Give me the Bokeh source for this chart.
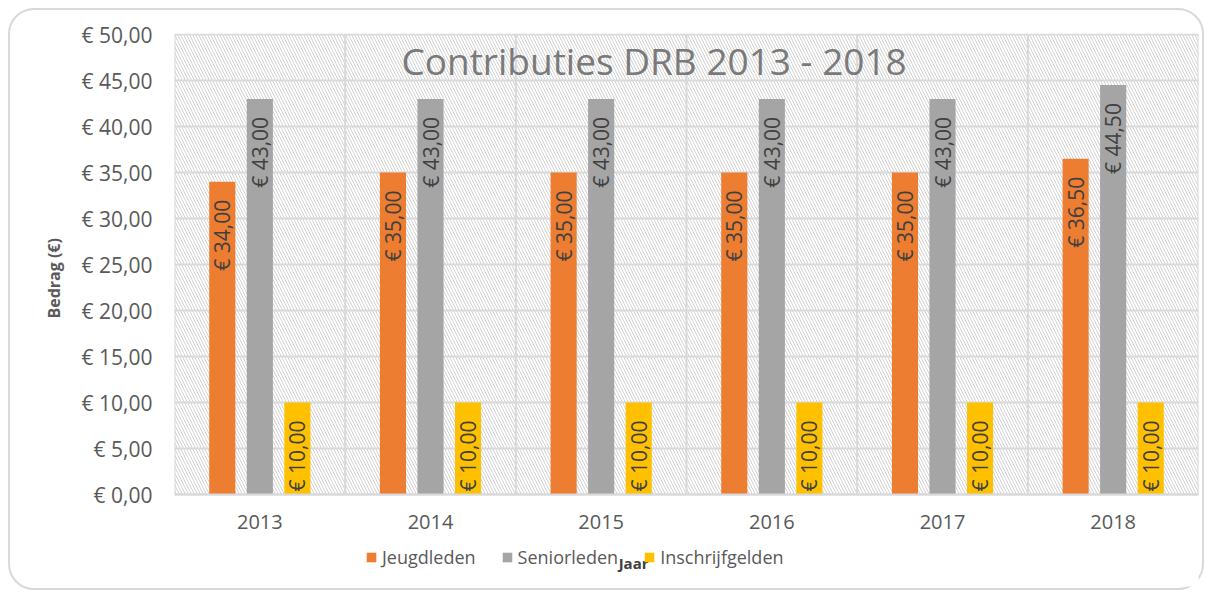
import numpy as np
from bokeh.plotting import figure
from bokeh.models import (ColumnDataSource, FixedTicker, Legend, LegendItem, Label, Title)
from bokeh.core.properties import value
from bokeh.embed import file_html
from bokeh.resources import INLINE

# ---- data ----
years = ["2013", "2014", "2015", "2016", "2017", "2018"]
jeugdleden = [34.00, 35.00, 35.00, 35.00, 35.00, 36.50]
seniorleden = [43.00, 43.00, 43.00, 43.00, 43.00, 44.50]
inschrijfgelden = [10.00, 10.00, 10.00, 10.00, 10.00, 10.00]
series_names = ["Jeugdleden", "Seniorleden", "Inschrijfgelden"]
y_ticks = [0, 5, 10, 15, 20, 25, 30, 35, 40, 45, 50]
title_text = "Contributies DRB 2013 - 2018"
y_title = "Bedrag (€)"
x_title = "Jaar"

colors = ["#ED7D31", "#A5A5A5", "#FFC000"]
FONT = "Open Sans"
GRID = "#d9d9d9"

def euro(v):
    return "€ " + f"{v:.2f}".replace(".", ",")

y_max = max(y_ticks)
# frame extends below zero so that legend and axis title can sit inside it
p = figure(width=1196, height=582, x_range=(0, len(years)), y_range=(-10.0, y_max + 0.11),
           output_backend="svg", toolbar_location=None,
           min_border_left=164, min_border_right=8, min_border_top=23, min_border_bottom=6)
p.styles = {"border": "2px solid #d9d9d9", "border-radius": "26px",
            "margin-left": "8px", "margin-top": "8px"}
p.border_fill_alpha = 0
p.background_fill_color = "white"
p.outline_line_color = None

# hatched plot-area background
bg = p.quad(left=[0], right=[len(years)], bottom=[0], top=[y_max], fill_color="white",
            line_color=None, hatch_pattern="\\", hatch_color="#d2d2d2",
            hatch_scale=6, hatch_weight=1)
bg.level = "image"

# grids
p.ygrid.ticker = FixedTicker(ticks=y_ticks)
p.ygrid.grid_line_color = GRID
p.ygrid.grid_line_width = 2
p.xgrid.visible = False
bounds = np.arange(len(years) + 1)
vl = p.segment(x0=bounds, x1=bounds, y0=0, y1=y_max, line_color=GRID, line_width=2)
vl.level = "underlay"

idx = np.arange(len(years)) + 0.5
offsets = [-0.22, 0.0, 0.22]
bar_w = 0.153
renderers = []
for name, vals, off, col in zip(series_names, [jeugdleden, seniorleden, inschrijfgelden], offsets, colors):
    src = ColumnDataSource(dict(x=idx + off, top=vals, lab=[euro(v) for v in vals]))
    r = p.vbar(x="x", top="top", width=bar_w, source=src, fill_color=col, line_color=None)
    renderers.append(r)
    p.text(x="x", y="top", text="lab", source=src, angle=np.pi / 2, text_align="right",
           text_baseline="middle", y_offset=18, text_color="#404040",
           text_font=value(FONT), text_font_size="21px")

# y axis
p.yaxis.ticker = FixedTicker(ticks=y_ticks)
p.yaxis.major_label_overrides = {t: euro(t) for t in y_ticks}
p.yaxis.major_label_text_font = FONT
p.yaxis.major_label_text_font_size = "21px"
p.yaxis.major_label_text_color = "#595959"
p.yaxis.major_label_standoff = 22
p.yaxis.major_tick_out = 0
p.yaxis.major_tick_in = 0
p.yaxis.axis_line_color = None
p.yaxis.major_tick_line_color = None
p.yaxis.minor_tick_line_color = None

p.add_layout(Title(text=y_title, align="left", offset=268, text_font=FONT,
                   text_font_style="bold", text_font_size="16px", text_color="#595959",
                   standoff=28), "left")

# x axis at y = 0
p.xaxis.fixed_location = 0
p.xaxis.ticker = FixedTicker(ticks=list(idx))
p.xaxis.major_label_overrides = {float(c): y for c, y in zip(idx, years)}
p.xaxis.major_label_text_font = FONT
p.xaxis.major_label_text_font_size = "20px"
p.xaxis.major_label_text_color = "#595959"
p.xaxis.major_label_standoff = 20
p.xaxis.major_tick_out = 0
p.xaxis.major_tick_in = 0
p.xaxis.axis_line_color = GRID
p.xaxis.axis_line_width = 2
p.xaxis.major_tick_line_color = None
p.xaxis.minor_tick_line_color = None

# title inside plot area
p.add_layout(Label(x=2.81, y=47.2, text=title_text, text_align="center", text_baseline="middle",
                   text_font=FONT, text_font_size="37px", text_color="#7a7a7a"))

# x-axis title overlapping legend (as in the original; legend drawn on top)
p.add_layout(Label(x=2.69, y=-7.4, text=x_title, text_align="center", text_baseline="middle",
                   text_font=FONT, text_font_style="bold", text_font_size="15px",
                   text_color="#404040"))

legend = Legend(items=[LegendItem(label=n, renderers=[r]) for n, r in zip(series_names, renderers)],
                location=(191, 17), orientation="horizontal", glyph_width=12, glyph_height=12,
                label_standoff=5, spacing=25, padding=0, margin=0, border_line_color=None,
                background_fill_alpha=0, label_text_font=FONT, label_text_font_size="18px",
                label_text_color="#595959")
p.add_layout(legend, "center")

open("out.html", "w").write(file_html(p, INLINE))
